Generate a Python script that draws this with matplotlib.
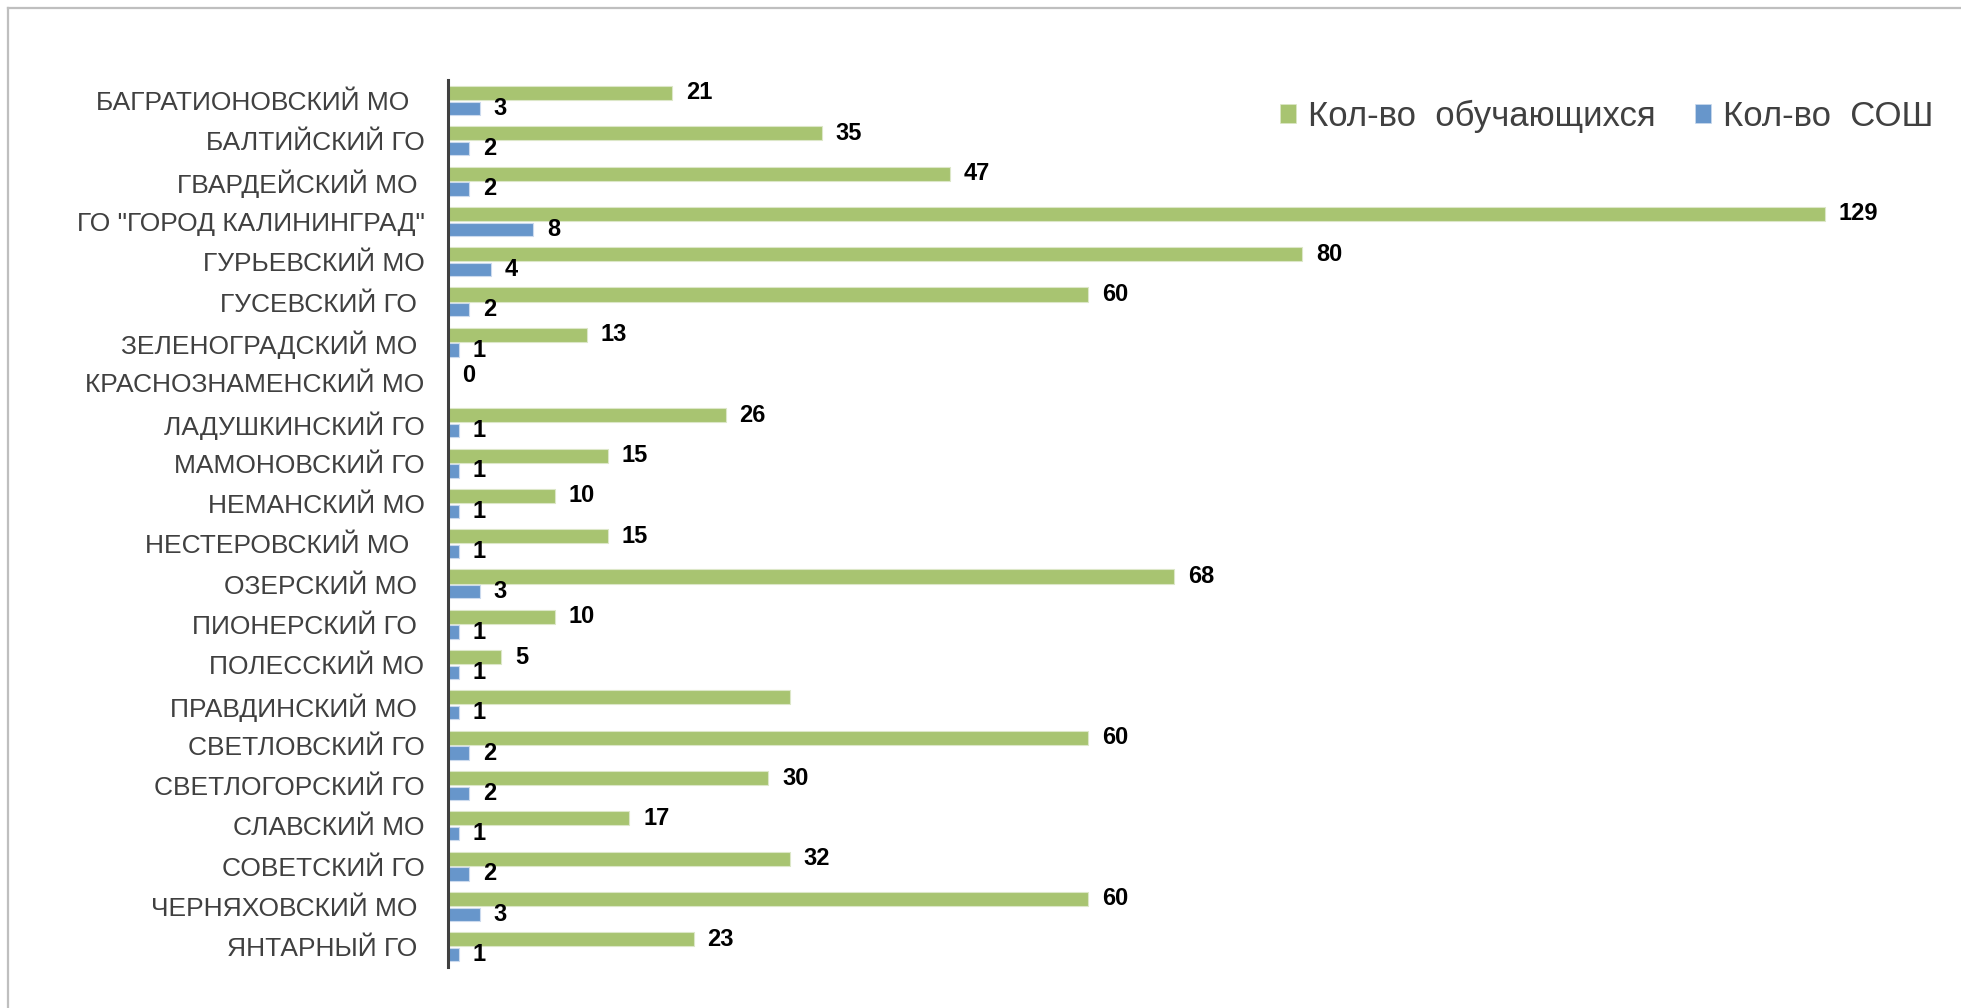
import numpy as np
import matplotlib
matplotlib.use("Agg")
import matplotlib.pyplot as plt
from matplotlib.patches import Patch
from matplotlib.lines import Line2D

plt.rcParams['font.family'] = ['Liberation Sans', 'DejaVu Sans']

categories = [
    'БАГРАТИОНОВСКИЙ МО  ', 'БАЛТИЙСКИЙ ГО', 'ГВАРДЕЙСКИЙ МО ',
    'ГО "ГОРОД КАЛИНИНГРАД"', 'ГУРЬЕВСКИЙ МО', 'ГУСЕВСКИЙ ГО ',
    'ЗЕЛЕНОГРАДСКИЙ МО ', 'КРАСНОЗНАМЕНСКИЙ МО', 'ЛАДУШКИНСКИЙ ГО',
    'МАМОНОВСКИЙ ГО', 'НЕМАНСКИЙ МО', 'НЕСТЕРОВСКИЙ МО  ', 'ОЗЕРСКИЙ МО ',
    'ПИОНЕРСКИЙ ГО ', 'ПОЛЕССКИЙ МО', 'ПРАВДИНСКИЙ МО ', 'СВЕТЛОВСКИЙ ГО',
    'СВЕТЛОГОРСКИЙ ГО', 'СЛАВСКИЙ МО', 'СОВЕТСКИЙ ГО', 'ЧЕРНЯХОВСКИЙ МО ',
    'ЯНТАРНЫЙ ГО ',
]
students = [21, 35, 47, 129, 80, 60, 13, 0, 26, 15, 10, 15, 68, 10, 5, 32,
            60, 30, 17, 32, 60, 23]
students_labeled = [True] * 15 + [False] + [True] * 6
schools = [3, 2, 2, 8, 4, 2, 1, None, 1, 1, 1, 1, 3, 1, 1, 1, 2, 2, 1, 2, 3, 1]

legend_labels = ['Кол-во  обучающихся', 'Кол-во  СОШ']

green = '#A8C471'
blue = '#6796CB'
green_edge = '#DCE7C8'
blue_edge = '#CBDAEE'

W, H = 1961, 1008
fig = plt.figure(figsize=(W / 100, H / 100), dpi=100)
fig.patch.set_facecolor('white')

px_per_unit = 10.674
xmax = 140
ax_left = 448 / W
ax_bottom = 1 - 967 / H
ax_height = (967 - 80.5) / H
ax_width = xmax * px_per_unit / W
ax = fig.add_axes([ax_left, ax_bottom, ax_width, ax_height])

y = np.arange(len(categories))
sch_vals = [0 if v is None else v for v in schools]

b1 = ax.barh(y - 0.19, students, height=0.35, color=green,
             edgecolor=green_edge, linewidth=0.8, label=legend_labels[0])
b2 = ax.barh(y + 0.19, sch_vals, height=0.33, color=blue,
             edgecolor=blue_edge, linewidth=0.8, label=legend_labels[1])

lab1 = [str(v) if ok else '' for v, ok in zip(students, students_labeled)]
lab2 = ['' if v is None else str(v) for v in schools]
ax.bar_label(b1, labels=lab1, padding=10, fontsize=17, fontweight='bold',
             color='black')
ax.bar_label(b2, labels=lab2, padding=10, fontsize=17, fontweight='bold',
             color='black')

ax.set_xlim(0, xmax)
ax.set_ylim(len(categories) - 0.5, -0.5)
ax.set_yticks(y)
ax.set_yticklabels(categories, fontsize=19, color='#404040')
ax.tick_params(axis='y', length=0, pad=17)
ax.set_xticks([])
for s in ['top', 'right', 'bottom']:
    ax.spines[s].set_visible(False)
ax.spines['left'].set_color('#404040')
ax.spines['left'].set_linewidth(2.2)
ax.set_facecolor('none')

handles = [Patch(facecolor=green, edgecolor=green_edge, linewidth=0.5),
           Patch(facecolor=blue, edgecolor=blue_edge, linewidth=0.5)]
leg = fig.legend(handles, legend_labels, loc='center left',
                 bbox_to_anchor=(1280 / W, 1 - 116 / H), ncol=2, frameon=False,
                 fontsize=25, handlelength=0.45, handleheight=0.45,
                 handletextpad=0.35, columnspacing=1.15, borderpad=0,
                 borderaxespad=0)
for t in leg.get_texts():
    t.set_color('#404040')

# outer frame (left and top edges visible)
fig.add_artist(Line2D([8 / W, 8 / W], [0, 1 - 8 / H], transform=fig.transFigure,
                      color='#BFBFBF', linewidth=1.6))
fig.add_artist(Line2D([8 / W, 1], [1 - 8 / H, 1 - 8 / H], transform=fig.transFigure,
                      color='#BFBFBF', linewidth=1.6))

fig.savefig('out.png', dpi=100, facecolor='white')
